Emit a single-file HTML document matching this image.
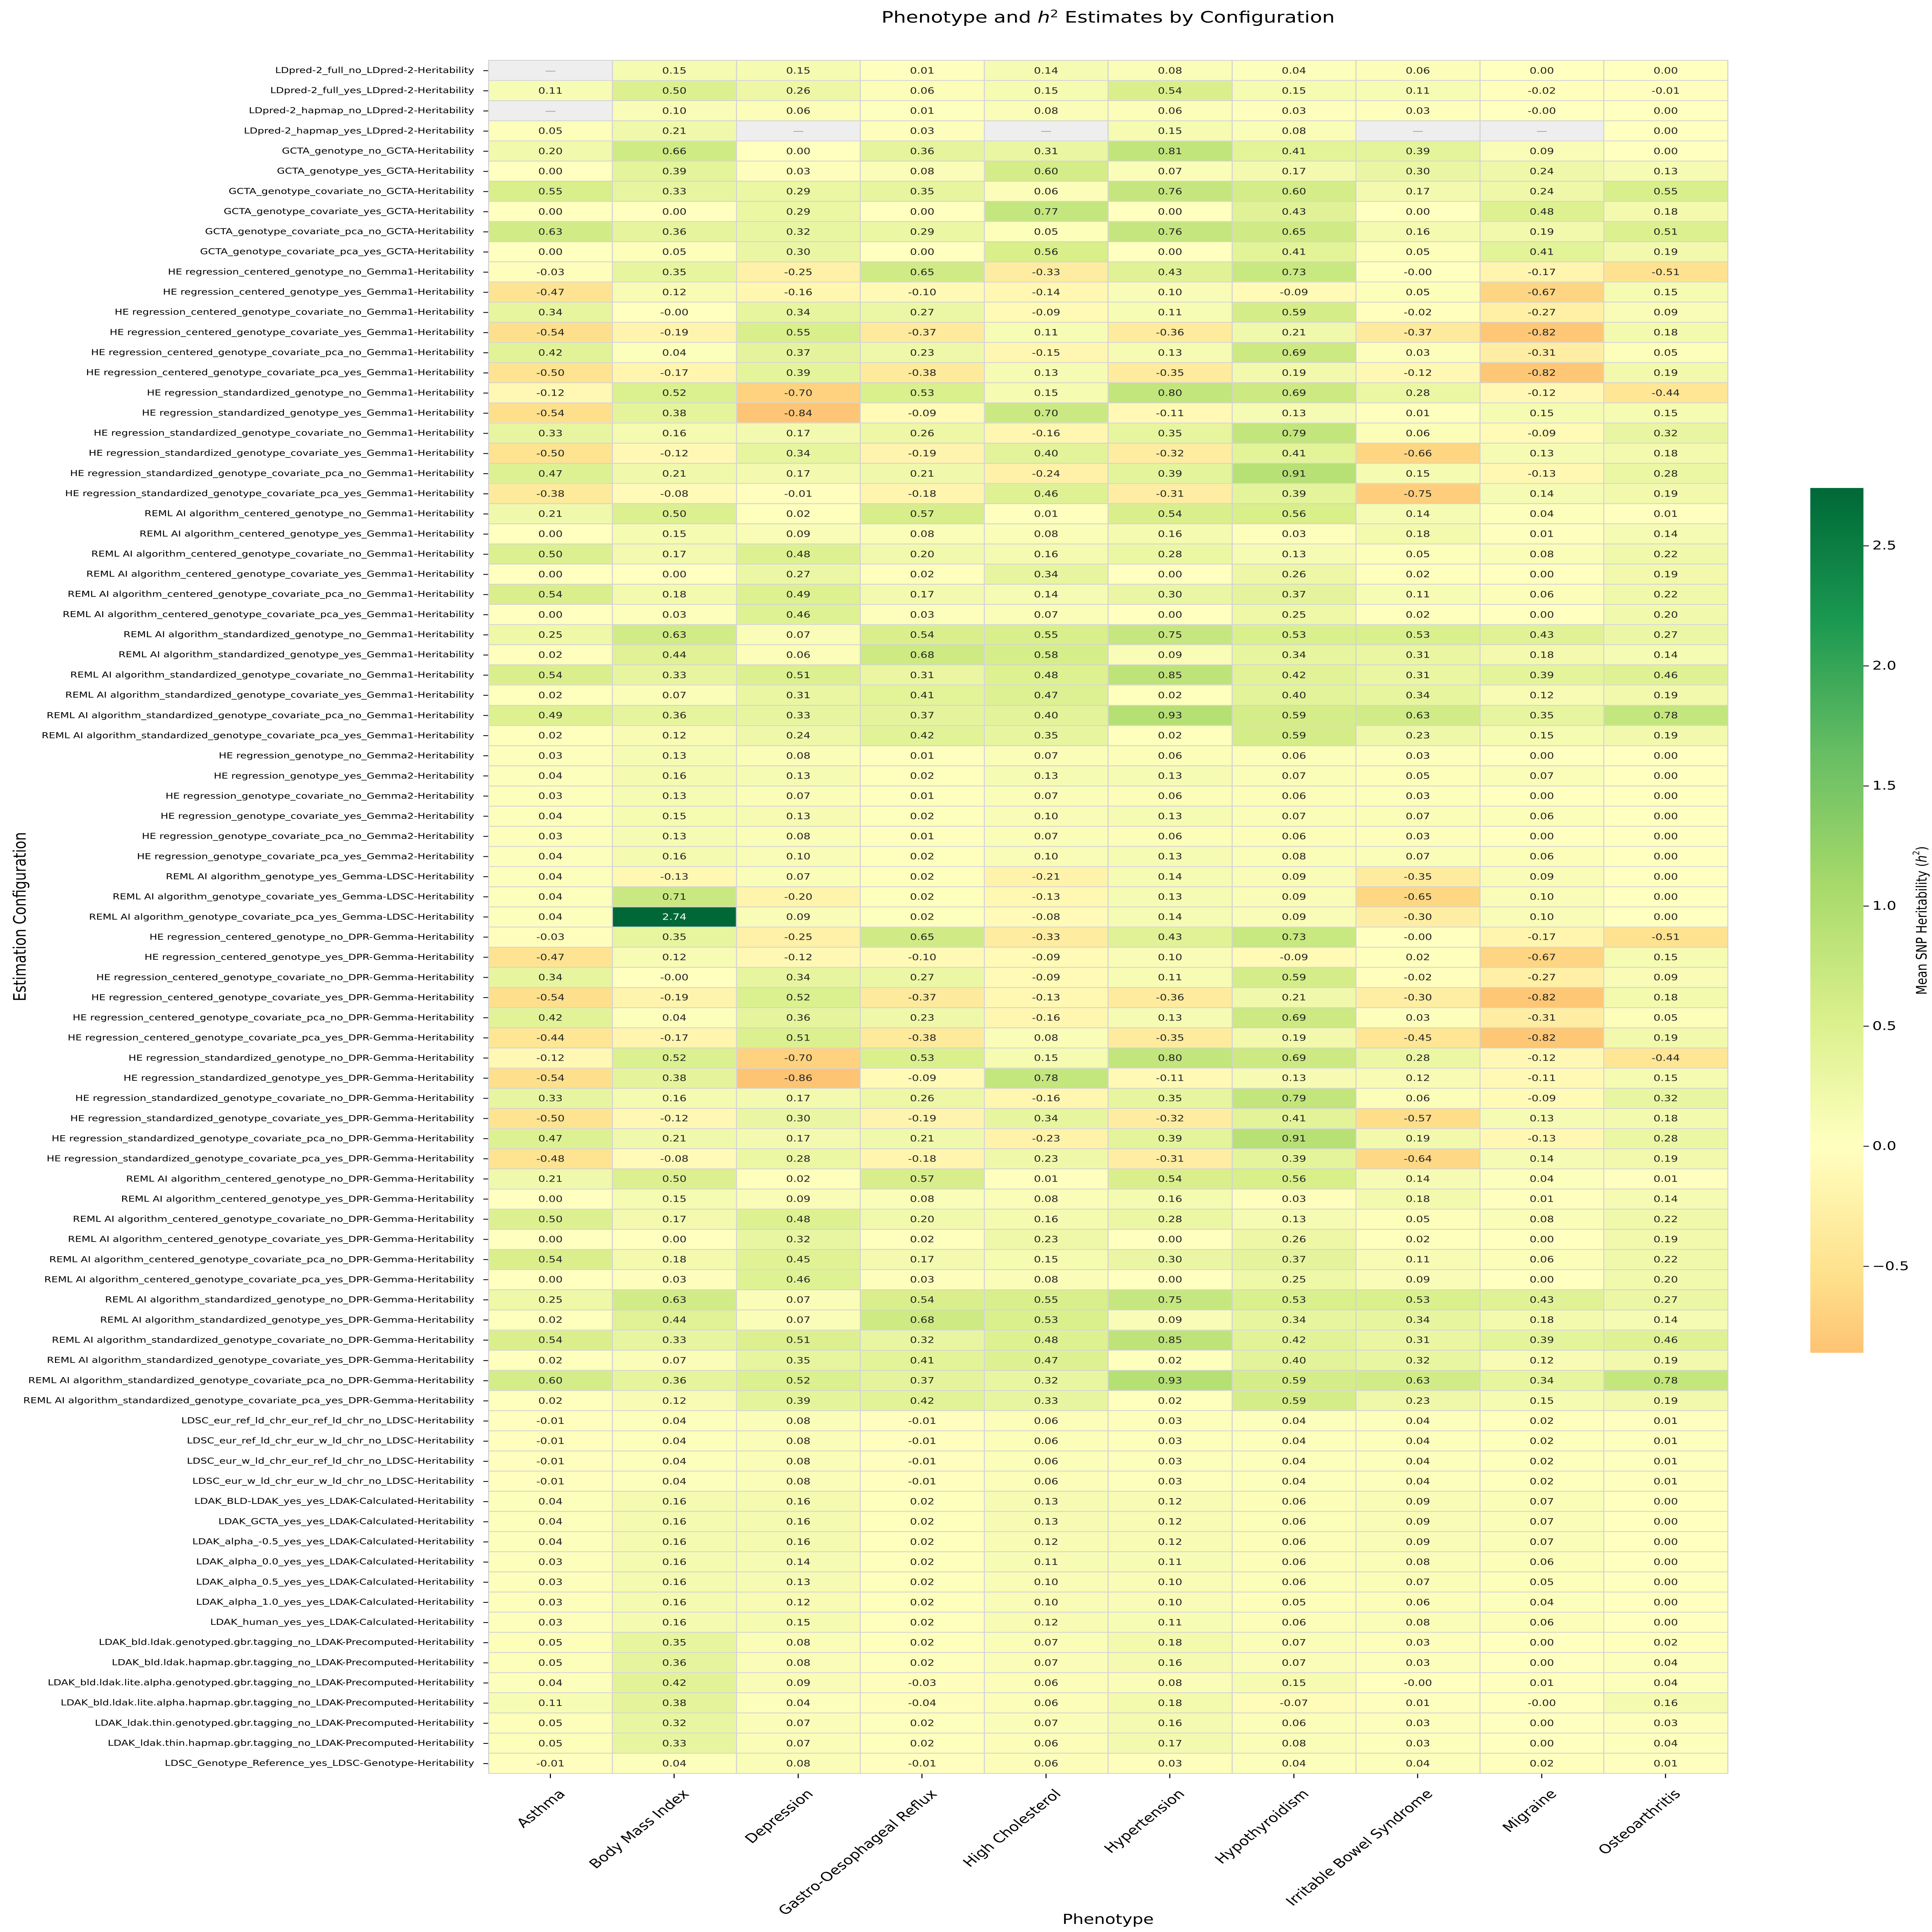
<!DOCTYPE html>
<html><head><meta charset="utf-8">
<style>
html,body{margin:0;padding:0;width:100%;height:100%;overflow:hidden;background:#fff}
#pg{position:absolute;left:0;top:0;width:5636px;height:7095px;overflow:hidden;transform-origin:0 0;background:#fff;font-family:"DejaVu Sans","Liberation Sans",sans-serif}
#hm{position:absolute;left:0;top:220px;border-collapse:collapse;table-layout:fixed;width:5040px}
#hm tr{height:74.02px}
#hm th{font-weight:normal;font-size:30px;text-align:right;padding:0 40px 0 0;white-space:nowrap;position:relative;color:#000;overflow:visible}
#hm th::after{content:"";position:absolute;right:0;top:50%;width:14px;height:3px;margin-top:-1px;background:#000}
#hm td{text-align:center;font-size:32px;color:#262626;border:3px solid #d2d2d2;padding:0;white-space:nowrap;overflow:hidden}
.xl{position:absolute;top:6560px;font-size:46px;transform-origin:100% 0;transform:rotate(-45deg);white-space:nowrap}
.xt{position:absolute;top:6514px;width:3px;height:16px;background:#000}
.ct{position:absolute;left:5436px;width:16px;height:3px;background:#000}
.cl{position:absolute;left:5462px;font-size:44px;line-height:44px;margin-top:-22px}
.vl{position:absolute;writing-mode:vertical-rl;transform:rotate(180deg);white-space:nowrap;text-align:center}
</style></head><body>
<div id="pg">
<div style="position:absolute;left:1425px;width:3615px;top:28px;text-align:center;font-size:58px;white-space:nowrap">Phenotype and <i>h</i><sup style="font-size:38px">2</sup> Estimates by Configuration</div>
<table id="hm">
<colgroup><col style="width:1425px"><col style="width:361.5px"><col style="width:361.5px"><col style="width:361.5px"><col style="width:361.5px"><col style="width:361.5px"><col style="width:361.5px"><col style="width:361.5px"><col style="width:361.5px"><col style="width:361.5px"><col style="width:361.5px"></colgroup>
<tr><th>LDpred-2_full_no_LDpred-2-Heritability</th><td>—</td><td>0.15</td><td>0.15</td><td>0.01</td><td>0.14</td><td>0.08</td><td>0.04</td><td>0.06</td><td>0.00</td><td>0.00</td></tr>
<tr><th>LDpred-2_full_yes_LDpred-2-Heritability</th><td>0.11</td><td>0.50</td><td>0.26</td><td>0.06</td><td>0.15</td><td>0.54</td><td>0.15</td><td>0.11</td><td>-0.02</td><td>-0.01</td></tr>
<tr><th>LDpred-2_hapmap_no_LDpred-2-Heritability</th><td>—</td><td>0.10</td><td>0.06</td><td>0.01</td><td>0.08</td><td>0.06</td><td>0.03</td><td>0.03</td><td>-0.00</td><td>0.00</td></tr>
<tr><th>LDpred-2_hapmap_yes_LDpred-2-Heritability</th><td>0.05</td><td>0.21</td><td>—</td><td>0.03</td><td>—</td><td>0.15</td><td>0.08</td><td>—</td><td>—</td><td>0.00</td></tr>
<tr><th>GCTA_genotype_no_GCTA-Heritability</th><td>0.20</td><td>0.66</td><td>0.00</td><td>0.36</td><td>0.31</td><td>0.81</td><td>0.41</td><td>0.39</td><td>0.09</td><td>0.00</td></tr>
<tr><th>GCTA_genotype_yes_GCTA-Heritability</th><td>0.00</td><td>0.39</td><td>0.03</td><td>0.08</td><td>0.60</td><td>0.07</td><td>0.17</td><td>0.30</td><td>0.24</td><td>0.13</td></tr>
<tr><th>GCTA_genotype_covariate_no_GCTA-Heritability</th><td>0.55</td><td>0.33</td><td>0.29</td><td>0.35</td><td>0.06</td><td>0.76</td><td>0.60</td><td>0.17</td><td>0.24</td><td>0.55</td></tr>
<tr><th>GCTA_genotype_covariate_yes_GCTA-Heritability</th><td>0.00</td><td>0.00</td><td>0.29</td><td>0.00</td><td>0.77</td><td>0.00</td><td>0.43</td><td>0.00</td><td>0.48</td><td>0.18</td></tr>
<tr><th>GCTA_genotype_covariate_pca_no_GCTA-Heritability</th><td>0.63</td><td>0.36</td><td>0.32</td><td>0.29</td><td>0.05</td><td>0.76</td><td>0.65</td><td>0.16</td><td>0.19</td><td>0.51</td></tr>
<tr><th>GCTA_genotype_covariate_pca_yes_GCTA-Heritability</th><td>0.00</td><td>0.05</td><td>0.30</td><td>0.00</td><td>0.56</td><td>0.00</td><td>0.41</td><td>0.05</td><td>0.41</td><td>0.19</td></tr>
<tr><th>HE regression_centered_genotype_no_Gemma1-Heritability</th><td>-0.03</td><td>0.35</td><td>-0.25</td><td>0.65</td><td>-0.33</td><td>0.43</td><td>0.73</td><td>-0.00</td><td>-0.17</td><td>-0.51</td></tr>
<tr><th>HE regression_centered_genotype_yes_Gemma1-Heritability</th><td>-0.47</td><td>0.12</td><td>-0.16</td><td>-0.10</td><td>-0.14</td><td>0.10</td><td>-0.09</td><td>0.05</td><td>-0.67</td><td>0.15</td></tr>
<tr><th>HE regression_centered_genotype_covariate_no_Gemma1-Heritability</th><td>0.34</td><td>-0.00</td><td>0.34</td><td>0.27</td><td>-0.09</td><td>0.11</td><td>0.59</td><td>-0.02</td><td>-0.27</td><td>0.09</td></tr>
<tr><th>HE regression_centered_genotype_covariate_yes_Gemma1-Heritability</th><td>-0.54</td><td>-0.19</td><td>0.55</td><td>-0.37</td><td>0.11</td><td>-0.36</td><td>0.21</td><td>-0.37</td><td>-0.82</td><td>0.18</td></tr>
<tr><th>HE regression_centered_genotype_covariate_pca_no_Gemma1-Heritability</th><td>0.42</td><td>0.04</td><td>0.37</td><td>0.23</td><td>-0.15</td><td>0.13</td><td>0.69</td><td>0.03</td><td>-0.31</td><td>0.05</td></tr>
<tr><th>HE regression_centered_genotype_covariate_pca_yes_Gemma1-Heritability</th><td>-0.50</td><td>-0.17</td><td>0.39</td><td>-0.38</td><td>0.13</td><td>-0.35</td><td>0.19</td><td>-0.12</td><td>-0.82</td><td>0.19</td></tr>
<tr><th>HE regression_standardized_genotype_no_Gemma1-Heritability</th><td>-0.12</td><td>0.52</td><td>-0.70</td><td>0.53</td><td>0.15</td><td>0.80</td><td>0.69</td><td>0.28</td><td>-0.12</td><td>-0.44</td></tr>
<tr><th>HE regression_standardized_genotype_yes_Gemma1-Heritability</th><td>-0.54</td><td>0.38</td><td>-0.84</td><td>-0.09</td><td>0.70</td><td>-0.11</td><td>0.13</td><td>0.01</td><td>0.15</td><td>0.15</td></tr>
<tr><th>HE regression_standardized_genotype_covariate_no_Gemma1-Heritability</th><td>0.33</td><td>0.16</td><td>0.17</td><td>0.26</td><td>-0.16</td><td>0.35</td><td>0.79</td><td>0.06</td><td>-0.09</td><td>0.32</td></tr>
<tr><th>HE regression_standardized_genotype_covariate_yes_Gemma1-Heritability</th><td>-0.50</td><td>-0.12</td><td>0.34</td><td>-0.19</td><td>0.40</td><td>-0.32</td><td>0.41</td><td>-0.66</td><td>0.13</td><td>0.18</td></tr>
<tr><th>HE regression_standardized_genotype_covariate_pca_no_Gemma1-Heritability</th><td>0.47</td><td>0.21</td><td>0.17</td><td>0.21</td><td>-0.24</td><td>0.39</td><td>0.91</td><td>0.15</td><td>-0.13</td><td>0.28</td></tr>
<tr><th>HE regression_standardized_genotype_covariate_pca_yes_Gemma1-Heritability</th><td>-0.38</td><td>-0.08</td><td>-0.01</td><td>-0.18</td><td>0.46</td><td>-0.31</td><td>0.39</td><td>-0.75</td><td>0.14</td><td>0.19</td></tr>
<tr><th>REML AI algorithm_centered_genotype_no_Gemma1-Heritability</th><td>0.21</td><td>0.50</td><td>0.02</td><td>0.57</td><td>0.01</td><td>0.54</td><td>0.56</td><td>0.14</td><td>0.04</td><td>0.01</td></tr>
<tr><th>REML AI algorithm_centered_genotype_yes_Gemma1-Heritability</th><td>0.00</td><td>0.15</td><td>0.09</td><td>0.08</td><td>0.08</td><td>0.16</td><td>0.03</td><td>0.18</td><td>0.01</td><td>0.14</td></tr>
<tr><th>REML AI algorithm_centered_genotype_covariate_no_Gemma1-Heritability</th><td>0.50</td><td>0.17</td><td>0.48</td><td>0.20</td><td>0.16</td><td>0.28</td><td>0.13</td><td>0.05</td><td>0.08</td><td>0.22</td></tr>
<tr><th>REML AI algorithm_centered_genotype_covariate_yes_Gemma1-Heritability</th><td>0.00</td><td>0.00</td><td>0.27</td><td>0.02</td><td>0.34</td><td>0.00</td><td>0.26</td><td>0.02</td><td>0.00</td><td>0.19</td></tr>
<tr><th>REML AI algorithm_centered_genotype_covariate_pca_no_Gemma1-Heritability</th><td>0.54</td><td>0.18</td><td>0.49</td><td>0.17</td><td>0.14</td><td>0.30</td><td>0.37</td><td>0.11</td><td>0.06</td><td>0.22</td></tr>
<tr><th>REML AI algorithm_centered_genotype_covariate_pca_yes_Gemma1-Heritability</th><td>0.00</td><td>0.03</td><td>0.46</td><td>0.03</td><td>0.07</td><td>0.00</td><td>0.25</td><td>0.02</td><td>0.00</td><td>0.20</td></tr>
<tr><th>REML AI algorithm_standardized_genotype_no_Gemma1-Heritability</th><td>0.25</td><td>0.63</td><td>0.07</td><td>0.54</td><td>0.55</td><td>0.75</td><td>0.53</td><td>0.53</td><td>0.43</td><td>0.27</td></tr>
<tr><th>REML AI algorithm_standardized_genotype_yes_Gemma1-Heritability</th><td>0.02</td><td>0.44</td><td>0.06</td><td>0.68</td><td>0.58</td><td>0.09</td><td>0.34</td><td>0.31</td><td>0.18</td><td>0.14</td></tr>
<tr><th>REML AI algorithm_standardized_genotype_covariate_no_Gemma1-Heritability</th><td>0.54</td><td>0.33</td><td>0.51</td><td>0.31</td><td>0.48</td><td>0.85</td><td>0.42</td><td>0.31</td><td>0.39</td><td>0.46</td></tr>
<tr><th>REML AI algorithm_standardized_genotype_covariate_yes_Gemma1-Heritability</th><td>0.02</td><td>0.07</td><td>0.31</td><td>0.41</td><td>0.47</td><td>0.02</td><td>0.40</td><td>0.34</td><td>0.12</td><td>0.19</td></tr>
<tr><th>REML AI algorithm_standardized_genotype_covariate_pca_no_Gemma1-Heritability</th><td>0.49</td><td>0.36</td><td>0.33</td><td>0.37</td><td>0.40</td><td>0.93</td><td>0.59</td><td>0.63</td><td>0.35</td><td>0.78</td></tr>
<tr><th>REML AI algorithm_standardized_genotype_covariate_pca_yes_Gemma1-Heritability</th><td>0.02</td><td>0.12</td><td>0.24</td><td>0.42</td><td>0.35</td><td>0.02</td><td>0.59</td><td>0.23</td><td>0.15</td><td>0.19</td></tr>
<tr><th>HE regression_genotype_no_Gemma2-Heritability</th><td>0.03</td><td>0.13</td><td>0.08</td><td>0.01</td><td>0.07</td><td>0.06</td><td>0.06</td><td>0.03</td><td>0.00</td><td>0.00</td></tr>
<tr><th>HE regression_genotype_yes_Gemma2-Heritability</th><td>0.04</td><td>0.16</td><td>0.13</td><td>0.02</td><td>0.13</td><td>0.13</td><td>0.07</td><td>0.05</td><td>0.07</td><td>0.00</td></tr>
<tr><th>HE regression_genotype_covariate_no_Gemma2-Heritability</th><td>0.03</td><td>0.13</td><td>0.07</td><td>0.01</td><td>0.07</td><td>0.06</td><td>0.06</td><td>0.03</td><td>0.00</td><td>0.00</td></tr>
<tr><th>HE regression_genotype_covariate_yes_Gemma2-Heritability</th><td>0.04</td><td>0.15</td><td>0.13</td><td>0.02</td><td>0.10</td><td>0.13</td><td>0.07</td><td>0.07</td><td>0.06</td><td>0.00</td></tr>
<tr><th>HE regression_genotype_covariate_pca_no_Gemma2-Heritability</th><td>0.03</td><td>0.13</td><td>0.08</td><td>0.01</td><td>0.07</td><td>0.06</td><td>0.06</td><td>0.03</td><td>0.00</td><td>0.00</td></tr>
<tr><th>HE regression_genotype_covariate_pca_yes_Gemma2-Heritability</th><td>0.04</td><td>0.16</td><td>0.10</td><td>0.02</td><td>0.10</td><td>0.13</td><td>0.08</td><td>0.07</td><td>0.06</td><td>0.00</td></tr>
<tr><th>REML AI algorithm_genotype_yes_Gemma-LDSC-Heritability</th><td>0.04</td><td>-0.13</td><td>0.07</td><td>0.02</td><td>-0.21</td><td>0.14</td><td>0.09</td><td>-0.35</td><td>0.09</td><td>0.00</td></tr>
<tr><th>REML AI algorithm_genotype_covariate_yes_Gemma-LDSC-Heritability</th><td>0.04</td><td>0.71</td><td>-0.20</td><td>0.02</td><td>-0.13</td><td>0.13</td><td>0.09</td><td>-0.65</td><td>0.10</td><td>0.00</td></tr>
<tr><th>REML AI algorithm_genotype_covariate_pca_yes_Gemma-LDSC-Heritability</th><td>0.04</td><td>2.74</td><td>0.09</td><td>0.02</td><td>-0.08</td><td>0.14</td><td>0.09</td><td>-0.30</td><td>0.10</td><td>0.00</td></tr>
<tr><th>HE regression_centered_genotype_no_DPR-Gemma-Heritability</th><td>-0.03</td><td>0.35</td><td>-0.25</td><td>0.65</td><td>-0.33</td><td>0.43</td><td>0.73</td><td>-0.00</td><td>-0.17</td><td>-0.51</td></tr>
<tr><th>HE regression_centered_genotype_yes_DPR-Gemma-Heritability</th><td>-0.47</td><td>0.12</td><td>-0.12</td><td>-0.10</td><td>-0.09</td><td>0.10</td><td>-0.09</td><td>0.02</td><td>-0.67</td><td>0.15</td></tr>
<tr><th>HE regression_centered_genotype_covariate_no_DPR-Gemma-Heritability</th><td>0.34</td><td>-0.00</td><td>0.34</td><td>0.27</td><td>-0.09</td><td>0.11</td><td>0.59</td><td>-0.02</td><td>-0.27</td><td>0.09</td></tr>
<tr><th>HE regression_centered_genotype_covariate_yes_DPR-Gemma-Heritability</th><td>-0.54</td><td>-0.19</td><td>0.52</td><td>-0.37</td><td>-0.13</td><td>-0.36</td><td>0.21</td><td>-0.30</td><td>-0.82</td><td>0.18</td></tr>
<tr><th>HE regression_centered_genotype_covariate_pca_no_DPR-Gemma-Heritability</th><td>0.42</td><td>0.04</td><td>0.36</td><td>0.23</td><td>-0.16</td><td>0.13</td><td>0.69</td><td>0.03</td><td>-0.31</td><td>0.05</td></tr>
<tr><th>HE regression_centered_genotype_covariate_pca_yes_DPR-Gemma-Heritability</th><td>-0.44</td><td>-0.17</td><td>0.51</td><td>-0.38</td><td>0.08</td><td>-0.35</td><td>0.19</td><td>-0.45</td><td>-0.82</td><td>0.19</td></tr>
<tr><th>HE regression_standardized_genotype_no_DPR-Gemma-Heritability</th><td>-0.12</td><td>0.52</td><td>-0.70</td><td>0.53</td><td>0.15</td><td>0.80</td><td>0.69</td><td>0.28</td><td>-0.12</td><td>-0.44</td></tr>
<tr><th>HE regression_standardized_genotype_yes_DPR-Gemma-Heritability</th><td>-0.54</td><td>0.38</td><td>-0.86</td><td>-0.09</td><td>0.78</td><td>-0.11</td><td>0.13</td><td>0.12</td><td>-0.11</td><td>0.15</td></tr>
<tr><th>HE regression_standardized_genotype_covariate_no_DPR-Gemma-Heritability</th><td>0.33</td><td>0.16</td><td>0.17</td><td>0.26</td><td>-0.16</td><td>0.35</td><td>0.79</td><td>0.06</td><td>-0.09</td><td>0.32</td></tr>
<tr><th>HE regression_standardized_genotype_covariate_yes_DPR-Gemma-Heritability</th><td>-0.50</td><td>-0.12</td><td>0.30</td><td>-0.19</td><td>0.34</td><td>-0.32</td><td>0.41</td><td>-0.57</td><td>0.13</td><td>0.18</td></tr>
<tr><th>HE regression_standardized_genotype_covariate_pca_no_DPR-Gemma-Heritability</th><td>0.47</td><td>0.21</td><td>0.17</td><td>0.21</td><td>-0.23</td><td>0.39</td><td>0.91</td><td>0.19</td><td>-0.13</td><td>0.28</td></tr>
<tr><th>HE regression_standardized_genotype_covariate_pca_yes_DPR-Gemma-Heritability</th><td>-0.48</td><td>-0.08</td><td>0.28</td><td>-0.18</td><td>0.23</td><td>-0.31</td><td>0.39</td><td>-0.64</td><td>0.14</td><td>0.19</td></tr>
<tr><th>REML AI algorithm_centered_genotype_no_DPR-Gemma-Heritability</th><td>0.21</td><td>0.50</td><td>0.02</td><td>0.57</td><td>0.01</td><td>0.54</td><td>0.56</td><td>0.14</td><td>0.04</td><td>0.01</td></tr>
<tr><th>REML AI algorithm_centered_genotype_yes_DPR-Gemma-Heritability</th><td>0.00</td><td>0.15</td><td>0.09</td><td>0.08</td><td>0.08</td><td>0.16</td><td>0.03</td><td>0.18</td><td>0.01</td><td>0.14</td></tr>
<tr><th>REML AI algorithm_centered_genotype_covariate_no_DPR-Gemma-Heritability</th><td>0.50</td><td>0.17</td><td>0.48</td><td>0.20</td><td>0.16</td><td>0.28</td><td>0.13</td><td>0.05</td><td>0.08</td><td>0.22</td></tr>
<tr><th>REML AI algorithm_centered_genotype_covariate_yes_DPR-Gemma-Heritability</th><td>0.00</td><td>0.00</td><td>0.32</td><td>0.02</td><td>0.23</td><td>0.00</td><td>0.26</td><td>0.02</td><td>0.00</td><td>0.19</td></tr>
<tr><th>REML AI algorithm_centered_genotype_covariate_pca_no_DPR-Gemma-Heritability</th><td>0.54</td><td>0.18</td><td>0.45</td><td>0.17</td><td>0.15</td><td>0.30</td><td>0.37</td><td>0.11</td><td>0.06</td><td>0.22</td></tr>
<tr><th>REML AI algorithm_centered_genotype_covariate_pca_yes_DPR-Gemma-Heritability</th><td>0.00</td><td>0.03</td><td>0.46</td><td>0.03</td><td>0.08</td><td>0.00</td><td>0.25</td><td>0.09</td><td>0.00</td><td>0.20</td></tr>
<tr><th>REML AI algorithm_standardized_genotype_no_DPR-Gemma-Heritability</th><td>0.25</td><td>0.63</td><td>0.07</td><td>0.54</td><td>0.55</td><td>0.75</td><td>0.53</td><td>0.53</td><td>0.43</td><td>0.27</td></tr>
<tr><th>REML AI algorithm_standardized_genotype_yes_DPR-Gemma-Heritability</th><td>0.02</td><td>0.44</td><td>0.07</td><td>0.68</td><td>0.53</td><td>0.09</td><td>0.34</td><td>0.34</td><td>0.18</td><td>0.14</td></tr>
<tr><th>REML AI algorithm_standardized_genotype_covariate_no_DPR-Gemma-Heritability</th><td>0.54</td><td>0.33</td><td>0.51</td><td>0.32</td><td>0.48</td><td>0.85</td><td>0.42</td><td>0.31</td><td>0.39</td><td>0.46</td></tr>
<tr><th>REML AI algorithm_standardized_genotype_covariate_yes_DPR-Gemma-Heritability</th><td>0.02</td><td>0.07</td><td>0.35</td><td>0.41</td><td>0.47</td><td>0.02</td><td>0.40</td><td>0.32</td><td>0.12</td><td>0.19</td></tr>
<tr><th>REML AI algorithm_standardized_genotype_covariate_pca_no_DPR-Gemma-Heritability</th><td>0.60</td><td>0.36</td><td>0.52</td><td>0.37</td><td>0.32</td><td>0.93</td><td>0.59</td><td>0.63</td><td>0.34</td><td>0.78</td></tr>
<tr><th>REML AI algorithm_standardized_genotype_covariate_pca_yes_DPR-Gemma-Heritability</th><td>0.02</td><td>0.12</td><td>0.39</td><td>0.42</td><td>0.33</td><td>0.02</td><td>0.59</td><td>0.23</td><td>0.15</td><td>0.19</td></tr>
<tr><th>LDSC_eur_ref_ld_chr_eur_ref_ld_chr_no_LDSC-Heritability</th><td>-0.01</td><td>0.04</td><td>0.08</td><td>-0.01</td><td>0.06</td><td>0.03</td><td>0.04</td><td>0.04</td><td>0.02</td><td>0.01</td></tr>
<tr><th>LDSC_eur_ref_ld_chr_eur_w_ld_chr_no_LDSC-Heritability</th><td>-0.01</td><td>0.04</td><td>0.08</td><td>-0.01</td><td>0.06</td><td>0.03</td><td>0.04</td><td>0.04</td><td>0.02</td><td>0.01</td></tr>
<tr><th>LDSC_eur_w_ld_chr_eur_ref_ld_chr_no_LDSC-Heritability</th><td>-0.01</td><td>0.04</td><td>0.08</td><td>-0.01</td><td>0.06</td><td>0.03</td><td>0.04</td><td>0.04</td><td>0.02</td><td>0.01</td></tr>
<tr><th>LDSC_eur_w_ld_chr_eur_w_ld_chr_no_LDSC-Heritability</th><td>-0.01</td><td>0.04</td><td>0.08</td><td>-0.01</td><td>0.06</td><td>0.03</td><td>0.04</td><td>0.04</td><td>0.02</td><td>0.01</td></tr>
<tr><th>LDAK_BLD-LDAK_yes_yes_LDAK-Calculated-Heritability</th><td>0.04</td><td>0.16</td><td>0.16</td><td>0.02</td><td>0.13</td><td>0.12</td><td>0.06</td><td>0.09</td><td>0.07</td><td>0.00</td></tr>
<tr><th>LDAK_GCTA_yes_yes_LDAK-Calculated-Heritability</th><td>0.04</td><td>0.16</td><td>0.16</td><td>0.02</td><td>0.13</td><td>0.12</td><td>0.06</td><td>0.09</td><td>0.07</td><td>0.00</td></tr>
<tr><th>LDAK_alpha_-0.5_yes_yes_LDAK-Calculated-Heritability</th><td>0.04</td><td>0.16</td><td>0.16</td><td>0.02</td><td>0.12</td><td>0.12</td><td>0.06</td><td>0.09</td><td>0.07</td><td>0.00</td></tr>
<tr><th>LDAK_alpha_0.0_yes_yes_LDAK-Calculated-Heritability</th><td>0.03</td><td>0.16</td><td>0.14</td><td>0.02</td><td>0.11</td><td>0.11</td><td>0.06</td><td>0.08</td><td>0.06</td><td>0.00</td></tr>
<tr><th>LDAK_alpha_0.5_yes_yes_LDAK-Calculated-Heritability</th><td>0.03</td><td>0.16</td><td>0.13</td><td>0.02</td><td>0.10</td><td>0.10</td><td>0.06</td><td>0.07</td><td>0.05</td><td>0.00</td></tr>
<tr><th>LDAK_alpha_1.0_yes_yes_LDAK-Calculated-Heritability</th><td>0.03</td><td>0.16</td><td>0.12</td><td>0.02</td><td>0.10</td><td>0.10</td><td>0.05</td><td>0.06</td><td>0.04</td><td>0.00</td></tr>
<tr><th>LDAK_human_yes_yes_LDAK-Calculated-Heritability</th><td>0.03</td><td>0.16</td><td>0.15</td><td>0.02</td><td>0.12</td><td>0.11</td><td>0.06</td><td>0.08</td><td>0.06</td><td>0.00</td></tr>
<tr><th>LDAK_bld.ldak.genotyped.gbr.tagging_no_LDAK-Precomputed-Heritability</th><td>0.05</td><td>0.35</td><td>0.08</td><td>0.02</td><td>0.07</td><td>0.18</td><td>0.07</td><td>0.03</td><td>0.00</td><td>0.02</td></tr>
<tr><th>LDAK_bld.ldak.hapmap.gbr.tagging_no_LDAK-Precomputed-Heritability</th><td>0.05</td><td>0.36</td><td>0.08</td><td>0.02</td><td>0.07</td><td>0.16</td><td>0.07</td><td>0.03</td><td>0.00</td><td>0.04</td></tr>
<tr><th>LDAK_bld.ldak.lite.alpha.genotyped.gbr.tagging_no_LDAK-Precomputed-Heritability</th><td>0.04</td><td>0.42</td><td>0.09</td><td>-0.03</td><td>0.06</td><td>0.08</td><td>0.15</td><td>-0.00</td><td>0.01</td><td>0.04</td></tr>
<tr><th>LDAK_bld.ldak.lite.alpha.hapmap.gbr.tagging_no_LDAK-Precomputed-Heritability</th><td>0.11</td><td>0.38</td><td>0.04</td><td>-0.04</td><td>0.06</td><td>0.18</td><td>-0.07</td><td>0.01</td><td>-0.00</td><td>0.16</td></tr>
<tr><th>LDAK_ldak.thin.genotyped.gbr.tagging_no_LDAK-Precomputed-Heritability</th><td>0.05</td><td>0.32</td><td>0.07</td><td>0.02</td><td>0.07</td><td>0.16</td><td>0.06</td><td>0.03</td><td>0.00</td><td>0.03</td></tr>
<tr><th>LDAK_ldak.thin.hapmap.gbr.tagging_no_LDAK-Precomputed-Heritability</th><td>0.05</td><td>0.33</td><td>0.07</td><td>0.02</td><td>0.06</td><td>0.17</td><td>0.08</td><td>0.03</td><td>0.00</td><td>0.04</td></tr>
<tr><th>LDSC_Genotype_Reference_yes_LDSC-Genotype-Heritability</th><td>-0.01</td><td>0.04</td><td>0.08</td><td>-0.01</td><td>0.06</td><td>0.03</td><td>0.04</td><td>0.04</td><td>0.02</td><td>0.01</td></tr>
</table>

<div class="xt" style="left:1604px"></div><div class="xt" style="left:1965px"></div><div class="xt" style="left:2327px"></div><div class="xt" style="left:2688px"></div><div class="xt" style="left:3050px"></div><div class="xt" style="left:3411px"></div><div class="xt" style="left:3773px"></div><div class="xt" style="left:4134px"></div><div class="xt" style="left:4496px"></div><div class="xt" style="left:4857px"></div>
<div class="xl" style="right:4015px">Asthma</div>
<div class="xl" style="right:3654px">Body Mass Index</div>
<div class="xl" style="right:3292px">Depression</div>
<div class="xl" style="right:2931px">Gastro-Oesophageal Reflux</div>
<div class="xl" style="right:2569px">High Cholesterol</div>
<div class="xl" style="right:2208px">Hypertension</div>
<div class="xl" style="right:1846px">Hypothyroidism</div>
<div class="xl" style="right:1485px">Irritable Bowel Syndrome</div>
<div class="xl" style="right:1123px">Migraine</div>
<div class="xl" style="right:762px">Osteoarthritis</div>

<div style="position:absolute;left:1425px;width:3615px;top:7020px;line-height:56px;text-align:center;font-size:50px">Phenotype</div>
<div class="vl" style="left:30px;top:2966px;height:800px;font-size:50px;line-height:56px">Estimation Configuration</div>

<div style="position:absolute;left:5281px;top:1792px;width:155px;height:3176px;background:linear-gradient(to bottom,#006837 0%,#1a9850 15.2%,#66bd63 30.4%,#a6d96a 45.7%,#d9ef8b 60.9%,#ffffbf 76.1%,#fee08b 91.3%,#fdc373 100%)"></div>
<div class="ct" style="top:2003px"></div><div class="cl" style="top:2004px">2.5</div>
<div class="ct" style="top:2444px"></div><div class="cl" style="top:2445px">2.0</div>
<div class="ct" style="top:2885px"></div><div class="cl" style="top:2886px">1.5</div>
<div class="ct" style="top:3326px"></div><div class="cl" style="top:3327px">1.0</div>
<div class="ct" style="top:3767px"></div><div class="cl" style="top:3768px">0.5</div>
<div class="ct" style="top:4208px"></div><div class="cl" style="top:4209px">0.0</div>
<div class="ct" style="top:4649px"></div><div class="cl" style="top:4650px">−0.5</div>
<div class="vl" style="left:5584px;top:2980px;height:800px;width:44px;font-size:42px;line-height:44px">Mean SNP Heritability (<i>h</i><sup style="font-size:26px;line-height:0">2</sup>)</div>
</div>
<script>
var stops=[[165,0,38],[215,48,39],[244,109,67],[253,174,97],[254,224,139],[255,255,191],[217,239,139],[166,217,106],[102,189,99],[26,152,80],[0,104,55]];
function cm(v){var t=0.5+v/2.74*0.5;t=Math.max(0,Math.min(1,t));var p=t*10,i=Math.min(9,Math.floor(p)),f=p-i;var a=stops[i],b=stops[i+1];return [0,1,2].map(function(k){return Math.round(a[k]+(b[k]-a[k])*f)});}
document.querySelectorAll('#hm td').forEach(function(td){var s=td.textContent.trim();if(s==='—'){td.style.background='#eeeeee';td.style.color='#999';return;}var v=parseFloat(s);var c=cm(v);td.style.background='rgb('+c.join(',')+')';var L=0.299*c[0]+0.587*c[1]+0.114*c[2];if(L<110)td.style.color='#fff';});
function fit(){var w=window.innerWidth||5636,h=window.innerHeight||7095;var sx=w/5636,sy=h/7095;document.getElementById('pg').style.transform=(Math.abs(sx-1)<1e-3&&Math.abs(sy-1)<1e-3)?'none':'scale('+sx+','+sy+')';}
fit();window.addEventListener('resize',fit);
</script>
</body></html>
